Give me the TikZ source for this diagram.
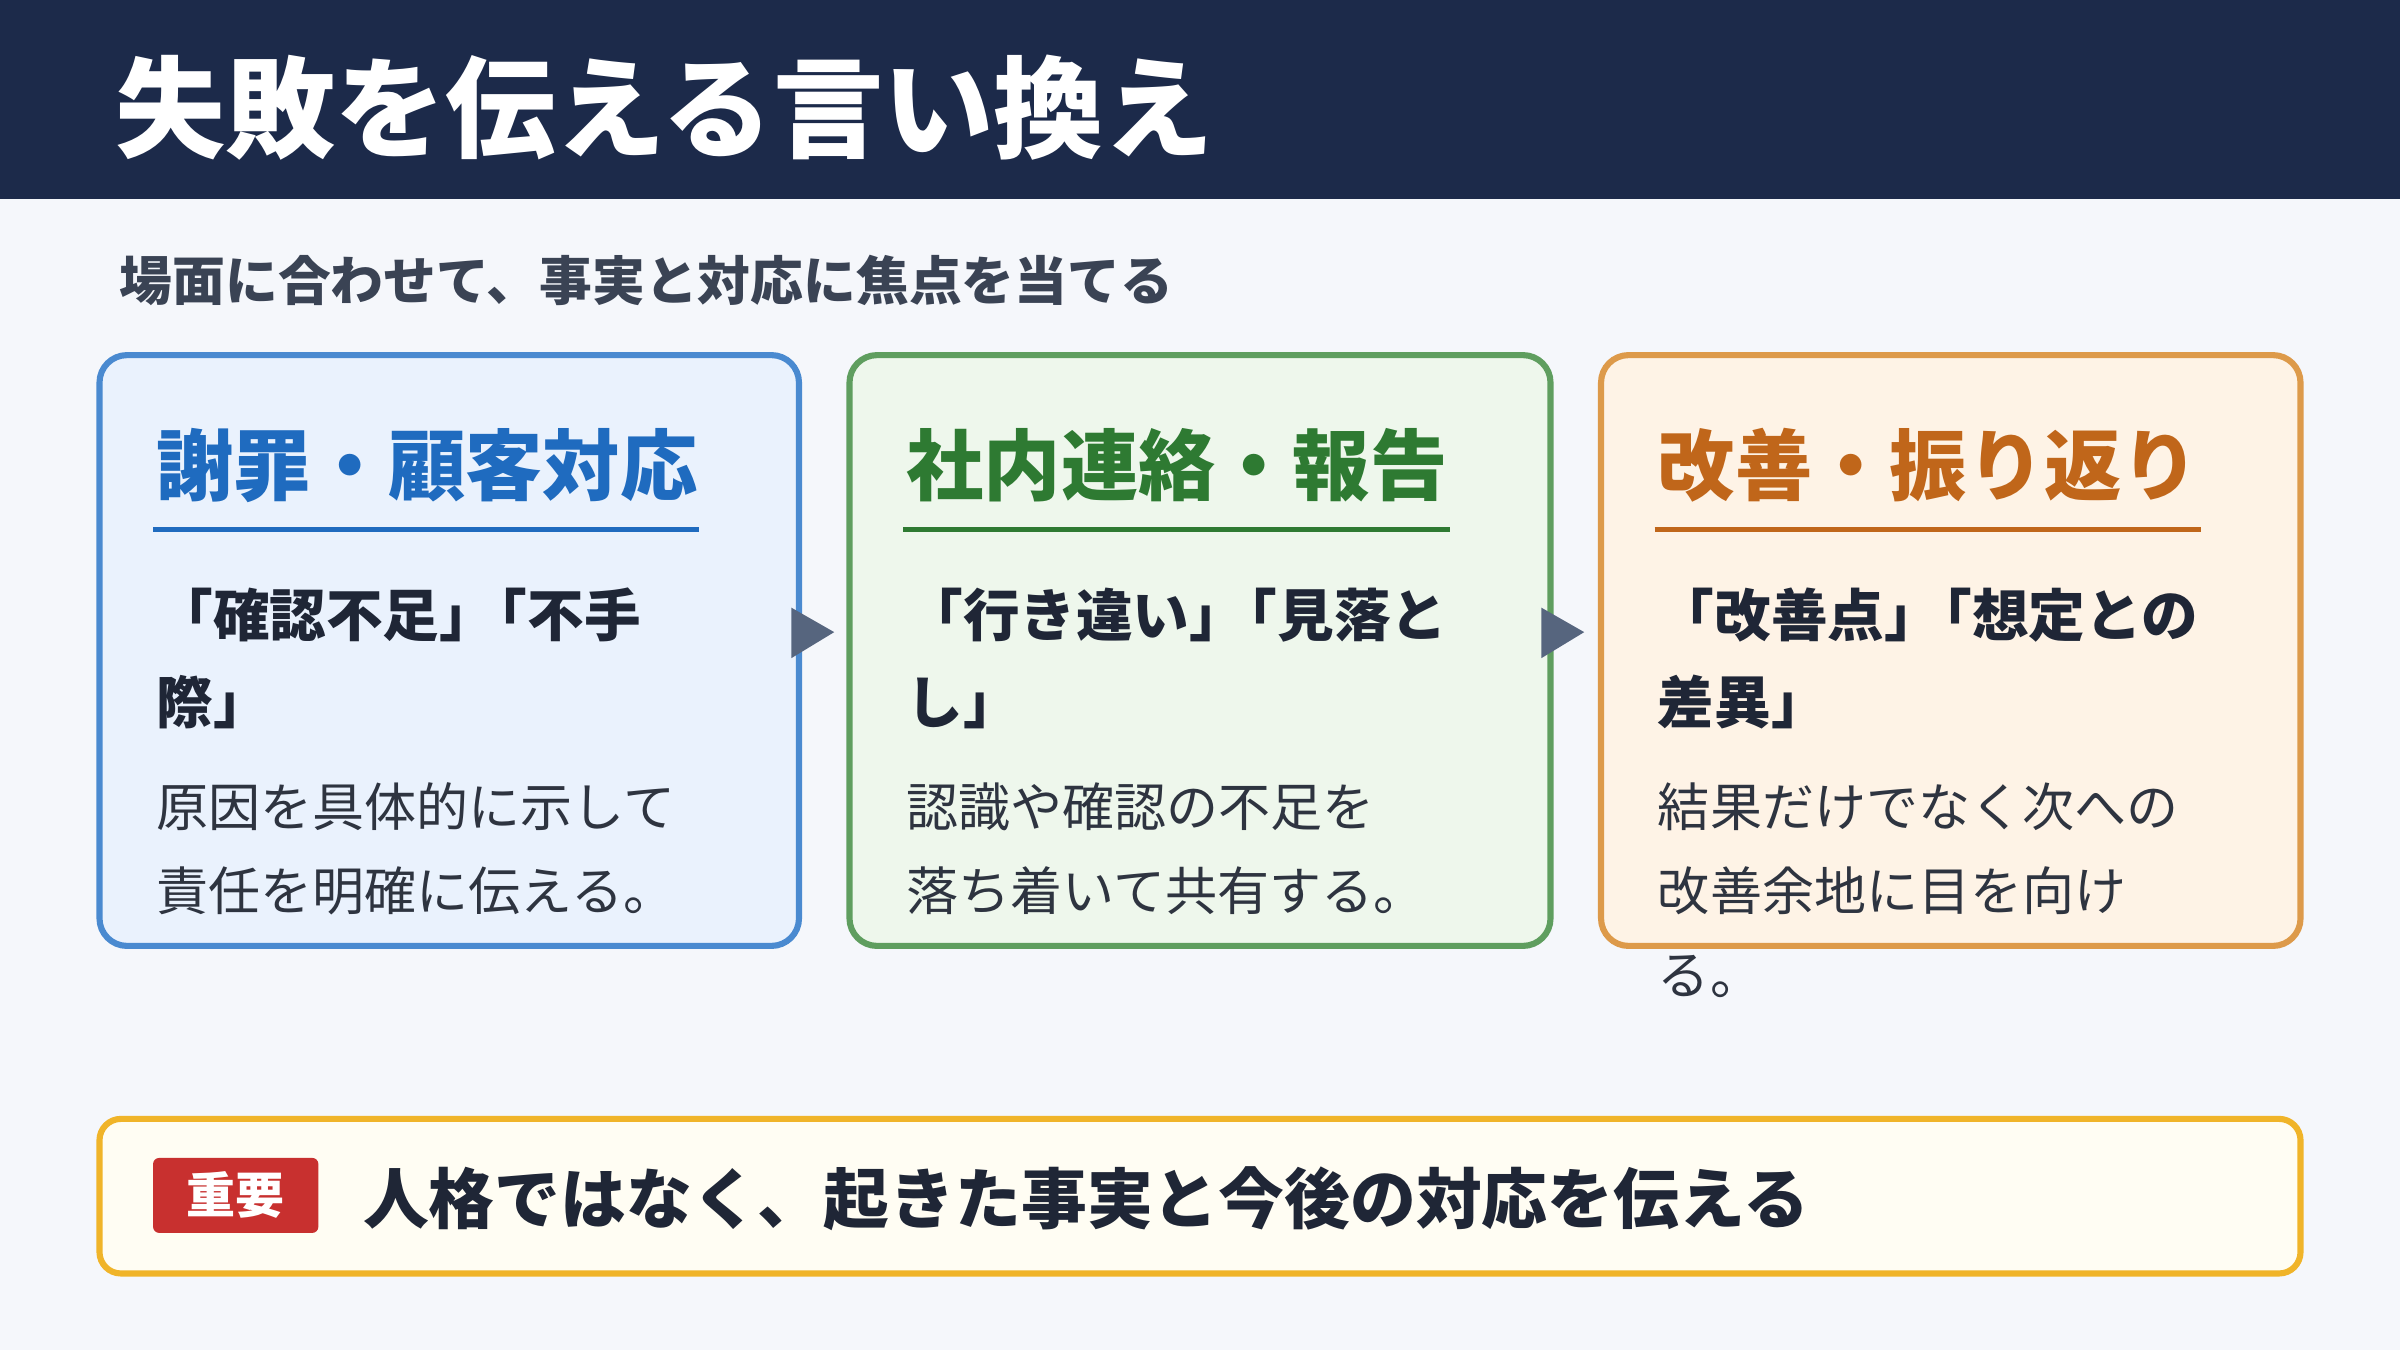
\documentclass[tikz,border=0pt]{standalone}
\usepackage{fontspec}
\setmainfont{Noto Sans CJK JP}
\definecolor{bg}{HTML}{F5F7FB}
\definecolor{hdr}{HTML}{1C2A4A}
\definecolor{sub}{HTML}{3A4354}
\definecolor{ink}{HTML}{1F2636}
\definecolor{bodyc}{HTML}{2E3440}
\definecolor{bB}{HTML}{4A8AD0}\definecolor{fB}{HTML}{EAF2FD}\definecolor{tB}{HTML}{1F6BBF}
\definecolor{bG}{HTML}{5F9E5F}\definecolor{fG}{HTML}{EEF7EC}\definecolor{tG}{HTML}{2E7A32}
\definecolor{bO}{HTML}{DD9A4A}\definecolor{fO}{HTML}{FEF3E6}\definecolor{tO}{HTML}{C0661A}
\definecolor{arr}{HTML}{56657E}
\definecolor{bY}{HTML}{F0B429}\definecolor{fY}{HTML}{FFFDF3}\definecolor{red}{HTML}{C8302F}
\newcommand{\jj}{\kern-0.45em}
\begin{document}
\begin{tikzpicture}[x=1pt,y=-1pt,
  card/.style={rounded corners=18pt,line width=4pt},
  head/.style={anchor=west,font=\fontsize{50.5}{54}\selectfont\bfseries,inner sep=0},
  quote/.style={anchor=north west,font=\fontsize{37}{57}\selectfont\bfseries,text=ink,inner sep=0,align=left},
  body/.style={anchor=north west,font=\fontsize{34}{55}\selectfont,text=bodyc,inner sep=0,align=left},
  tri/.style={fill=arr}]
\useasboundingbox (0,0) rectangle (1568,882);
\fill[bg] (0,0) rectangle (1568,882);
\fill[hdr] (0,0) rectangle (1568,130);
\node[anchor=west,inner sep=0,text=white,font=\fontsize{72}{76}\selectfont\bfseries] (title) at (75,70) {失敗を伝える言い換え};
\node[anchor=west,inner sep=0,text=sub,font=\fontsize{34.5}{38}\selectfont\bfseries] (subt) at (78,183) {場面に合わせて、事実と対応に焦点を当てる};
% cards
\draw[card,draw=bB,fill=fB] (65,232) rectangle (522,618);
\draw[card,draw=bG,fill=fG] (555,232) rectangle (1013,618);
\draw[card,draw=bO,fill=fO] (1046,232) rectangle (1503,618);
\node[head,text=tB] (h1) at (102,304) {謝罪・顧客対応};
\draw[tB,line width=3pt] (100,346) -- (457,346);
\node[head,text=tG] (h2) at (592,304) {社内連絡・報告};
\draw[tG,line width=3pt] (590,346) -- (947,346);
\node[head,text=tO] (h3) at (1083,304) {改善・振り返り};
\draw[tO,line width=3pt] (1081,346) -- (1438,346);
\node[quote] (q1) at (102,384) {「確認不足」\jj「不手\\際」};
\node[quote] (q2) at (592,384) {「行き違い」\jj「見落と\\し」};
\node[quote] (q3) at (1083,384) {「改善点」\jj「想定との\\差異」};
\node[body] (b1) at (102,511) {原因を具体的に示して\\責任を明確に伝える。};
\node[body] (b2) at (592,511) {認識や確認の不足を\\落ち着いて共有する。};
\node[body] (b3) at (1083,511) {結果だけでなく次への\\改善余地に目を向け\\る。};
\fill[tri] (517,397) -- (545,413) -- (517,430) -- cycle;
\fill[tri] (1007,397) -- (1035,413) -- (1007,430) -- cycle;
% bottom
\draw[rounded corners=14pt,line width=4pt,draw=bY,fill=fY] (65,731) rectangle (1503,832);
\node[fill=red,rounded corners=4pt,minimum width=108pt,minimum height=49pt,inner sep=0,text=white,font=\fontsize{32}{36}\selectfont\bfseries] (tag) at (154,781) {重要};
\node[anchor=west,inner sep=0,text=ink,font=\fontsize{43}{47}\selectfont\bfseries] (msg) at (237,783) {人格ではなく、起きた事実と今後の対応を伝える};
\end{tikzpicture}
\end{document}
